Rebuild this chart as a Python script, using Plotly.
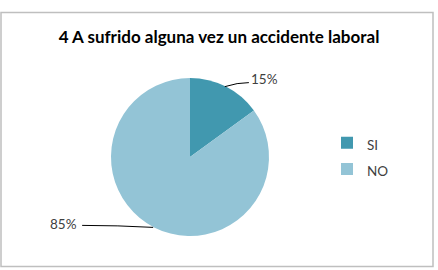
import math
import plotly.graph_objects as go

categories = ["SI", "NO"]
values = [15, 85]
colors = ["#4198AF", "#93C4D6"]
title_text = "4 A sufrido alguna vez un accidente laboral"

W, H = 438, 270
cx, cy, r = 190, 157, 79

def px(x):
    return x / W

def py(y):
    return 1 - y / H

fig = go.Figure()
fig.add_trace(go.Pie(
    labels=[f"<span style='font-size:13.5px'>{c}</span>" for c in categories],
    values=values,
    marker=dict(colors=colors, line=dict(width=0)),
    sort=False,
    direction="clockwise",
    rotation=0,
    textinfo="none",
    hoverinfo="label+percent",
    domain=dict(x=[px(cx - r), px(cx + r)], y=[py(cy + r), py(cy - r)]),
))

# labels with leader lines, derived from slice angles
total = sum(values)
cum = 0
label_cfg = [
    dict(dx=39, dy=-8),
    dict(dx=-91, dy=-3),
]
shapes = []
annotations = []
for v, cfg in zip(values, label_cfg):
    mid = (cum + v / 2) / total * 2 * math.pi
    cum += v
    ax = cx + r * math.sin(mid)
    ay = cy - r * math.cos(mid)
    lx = ax + cfg["dx"]
    ly = ay + cfg["dy"]
    pct = f"{round(v / total * 100)}%"
    if cfg["dx"] > 0:
        ex, ey = lx - 16, ly + 4
    else:
        ex, ey = lx + 19, ly + 1
    shapes.append(dict(type="path", xref="paper", yref="paper",
                       path=f"M {px(ax-1)} {py(ay)} Q {px(ax + (ex-ax)*0.5)} {py(ey)} {px(ex)} {py(ey)}",
                       line=dict(color="#000000", width=1)))
    annotations.append(dict(x=px(lx), y=py(ly), xref="paper", yref="paper",
                            text=pct, showarrow=False, xanchor="center", yanchor="middle",
                            font=dict(family="Lato, sans-serif", size=13.5, color="#404040")))

# chart border
shapes.append(dict(type="rect", xref="paper", yref="paper",
                   x0=px(1), x1=px(433), y0=py(266.5), y1=py(12.5),
                   line=dict(color="#BFBFBF", width=1.5)))

fig.update_layout(
    width=W, height=H,
    margin=dict(l=0, r=0, t=0, b=0),
    paper_bgcolor="white",
    plot_bgcolor="white",
    title=dict(text=f"<b>{title_text}</b>", x=0.5, xanchor="center", y=py(37), yanchor="middle",
               font=dict(family="Lato, sans-serif", size=17, color="#000000")),
    showlegend=True,
    legend=dict(x=px(327), y=py(156), xanchor="left", yanchor="middle",
                font=dict(family="Lato, sans-serif", size=18, color="#404040"),
                itemwidth=30, bgcolor="rgba(0,0,0,0)"),
    shapes=shapes,
    annotations=annotations,
)

fig.write_html("out.html")
